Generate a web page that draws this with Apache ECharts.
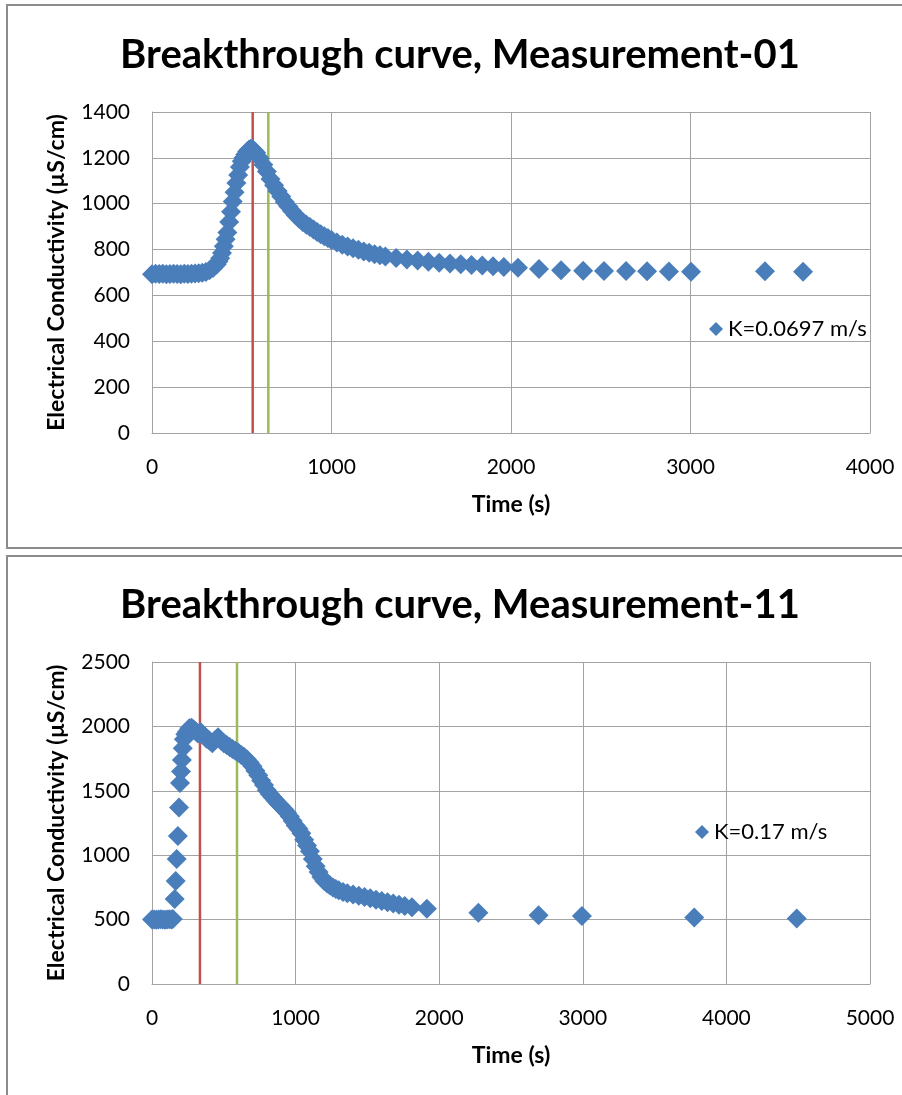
<!DOCTYPE html>
<html>
<head>
<meta charset="utf-8">
<script src="https://cdn.jsdelivr.net/npm/echarts@6/dist/echarts.min.js"></script>
<style>
html, body { margin: 0; padding: 0; background: #fff; }
#chart { width: 902px; height: 1095px; }
</style>
</head>
<body>
<div id="chart"></div>
<script>
// Measurement-01
var time01 = [0, 20, 40, 60, 80, 100, 120, 140, 160, 180, 200, 220, 240, 260, 280,
    300, 320, 340, 360, 370, 380, 390, 400, 410, 420, 430, 440, 450, 460, 470,
    480, 490, 500, 510, 520, 530, 540, 550, 560, 570, 580,
    600, 620, 640, 660, 680, 700, 720, 740, 760, 780, 800, 820, 840, 860, 880,
    900, 920, 940, 960, 980, 1000, 1030, 1060, 1090, 1120, 1150, 1180, 1210, 1240, 1270,
    1300, 1360, 1420, 1480, 1540, 1600, 1660, 1720, 1780, 1840, 1900, 1960,
    2039, 2156, 2279, 2402, 2518, 2641, 2758, 2880, 3003, 3415, 3627];
var ec01 = [692, 695, 693, 695, 692, 694, 695, 693, 692, 695, 694, 695, 696, 697, 699,
    702, 710, 720, 735, 748, 762, 785, 815, 845, 875, 920, 965, 1010, 1050, 1090,
    1125, 1160, 1185, 1200, 1215, 1228, 1235, 1240, 1238, 1230, 1222,
    1198, 1170, 1140, 1108, 1080, 1055, 1031, 1008, 988, 968, 950, 934, 920, 908, 898,
    887, 877, 867, 858, 850, 842, 831, 821, 813, 806, 799, 792, 786, 780, 775,
    770, 763, 757, 752, 747, 743, 739, 736, 733, 730, 727, 724,
    721, 715, 710, 708, 707, 706, 705, 704, 703, 705, 703];
var lines01 = [561, 648];

// Measurement-11
var time11 = [0, 15, 30, 45, 60, 75, 90, 105, 120, 135, 145,
    158, 165, 172, 180, 188, 195, 202, 208, 214, 222, 232, 245, 260, 275, 290, 305, 320, 340, 360,
    380, 400, 420, 440, 460, 480, 500, 520, 540, 560, 580, 600, 620, 640, 660,
    680, 700, 720, 740, 760, 780, 800, 820, 840, 860, 880, 900, 920, 940, 960,
    980, 1000, 1020, 1040, 1060, 1080, 1100, 1120, 1140, 1160, 1180, 1200, 1220, 1240, 1260,
    1280, 1300, 1330, 1360, 1400, 1440, 1480, 1520, 1560, 1600, 1640, 1680, 1720, 1760, 1810,
    1914, 2273, 2692, 2994, 3776, 4490];
var ec11 = [500, 500, 498, 500, 502, 500, 498, 500, 502, 500, 505,
    660, 800, 970, 1150, 1370, 1560, 1650, 1740, 1830, 1900, 1940, 1960, 1985, 1990, 1975, 1960, 1945, 1955, 1930,
    1905, 1890, 1870, 1895, 1915, 1890, 1870, 1855, 1840, 1825, 1810, 1798, 1780, 1765, 1745,
    1720, 1690, 1655, 1620, 1580, 1545, 1505, 1475, 1450, 1425, 1400, 1378, 1355, 1330, 1300,
    1265, 1230, 1205, 1170, 1120, 1075, 1030, 970, 915, 870, 830, 800, 780, 765, 750,
    738, 728, 715, 705, 695, 685, 675, 665, 655, 645, 635, 625, 615, 605, 595,
    585, 554, 533, 527, 516, 508];
var lines11 = [334, 592];

var xTicks01 = { min: 0, max: 4000, interval: 1000 };
var yTicks01 = { min: 0, max: 1400, interval: 200 };
var xTicks11 = { min: 0, max: 5000, interval: 1000 };
var yTicks11 = { min: 0, max: 2500, interval: 500 };

var fontFam = 'Lato, "Open Sans", sans-serif';
var gridColor = '#A3A3A3';
var blue = '#4A7EBB';

function zip(xs, ys){
    let out = [];
    for(let i = 0, len = xs.length; i < len; i++){
        out.push([xs[i], ys[i]]);
    }
    return out;
}

// plain numbers, no thousands separator
function plain(v){
    return String(v);
}

function makeX(idx, ticks){
    return {
        gridIndex: idx,
        type: 'value',
        min: ticks.min, max: ticks.max, interval: ticks.interval,
        name: 'Time (s)',
        nameLocation: 'middle',
        nameGap: 60,
        nameTextStyle: { fontFamily: fontFam, fontWeight: 'bold', fontSize: 23, color: '#000' },
        axisLine: { show: true, lineStyle: { color: gridColor, width: 1 } },
        axisTick: { show: false },
        axisLabel: { fontFamily: fontFam, fontSize: 21, color: '#000', margin: 24, formatter: plain },
        splitLine: { show: true, lineStyle: { color: gridColor, width: 1 } }
    };
}

function makeY(idx, ticks){
    return {
        gridIndex: idx,
        type: 'value',
        min: ticks.min, max: ticks.max, interval: ticks.interval,
        name: 'Electrical Conductivity (µS/cm)',
        nameLocation: 'middle',
        nameRotate: 90,
        nameGap: 84,
        nameTextStyle: { fontFamily: fontFam, fontWeight: 'bold', fontSize: 23, color: '#000' },
        axisLine: { show: true, lineStyle: { color: gridColor, width: 1 } },
        axisTick: { show: false },
        axisLabel: { fontFamily: fontFam, fontSize: 21, color: '#000', margin: 22, formatter: plain },
        splitLine: { show: true, lineStyle: { color: gridColor, width: 1 } }
    };
}

function vLine(idx, t, yMax, color){
    return {
        type: 'line',
        xAxisIndex: idx, yAxisIndex: idx,
        data: [[t, 0], [t, yMax]],
        symbol: 'none',
        silent: true,
        z: 1,
        lineStyle: { color: color, width: 2.5 }
    };
}

var dom = document.getElementById('chart');
var myChart = echarts.init(dom);
var option = {
    animation: false,
    backgroundColor: '#fff',
    graphic: [
        { type: 'rect', shape: { x: 7, y: 5, width: 905, height: 543 }, style: { fill: 'none', stroke: '#8C8C8C', lineWidth: 2 } },
        { type: 'rect', shape: { x: 7, y: 556, width: 905, height: 560 }, style: { fill: 'none', stroke: '#8C8C8C', lineWidth: 2 } },
        { type: 'text', x: 460, y: 55, style: { text: 'Breakthrough curve, Measurement-01', align: 'center', verticalAlign: 'middle', textAlign: 'center', textVerticalAlign: 'middle', fontFamily: fontFam, fontWeight: 'bold', fontSize: 40, fill: '#000' } },
        { type: 'text', x: 460, y: 605, style: { text: 'Breakthrough curve, Measurement-11', align: 'center', verticalAlign: 'middle', textAlign: 'center', textVerticalAlign: 'middle', fontFamily: fontFam, fontWeight: 'bold', fontSize: 40, fill: '#000' } }
    ],
    grid: [
        { left: 152, top: 112, width: 718, height: 321 },
        { left: 152, top: 662, width: 718, height: 322 }
    ],
    legend: [
        {
            data: ['K=0.0697 m/s'],
            left: 704, top: 313,
            icon: 'diamond', itemWidth: 14, itemHeight: 14, itemGap: 5,
            textStyle: { fontFamily: fontFam, fontSize: 22, color: '#000' }
        },
        {
            data: ['K=0.17 m/s'],
            left: 690, top: 816,
            icon: 'diamond', itemWidth: 14, itemHeight: 14, itemGap: 5,
            textStyle: { fontFamily: fontFam, fontSize: 22, color: '#000' }
        }
    ],
    xAxis: [makeX(0, xTicks01), makeX(1, xTicks11)],
    yAxis: [makeY(0, yTicks01), makeY(1, yTicks11)],
    series: [
        vLine(0, lines01[0], yTicks01.max, '#C0504D'),
        vLine(0, lines01[1], yTicks01.max, '#9BBB59'),
        vLine(1, lines11[0], yTicks11.max, '#C0504D'),
        vLine(1, lines11[1], yTicks11.max, '#9BBB59'),
        {
            name: 'K=0.0697 m/s',
            type: 'scatter',
            xAxisIndex: 0, yAxisIndex: 0,
            data: zip(time01, ec01),
            symbol: 'diamond',
            symbolSize: 20,
            z: 3,
            itemStyle: { color: blue, opacity: 1 }
        },
        {
            name: 'K=0.17 m/s',
            type: 'scatter',
            xAxisIndex: 1, yAxisIndex: 1,
            data: zip(time11, ec11),
            symbol: 'diamond',
            symbolSize: 20,
            z: 3,
            itemStyle: { color: blue, opacity: 1 }
        }
    ]
};
if (option && typeof option === "object") {
    myChart.setOption(option, true);
}
</script>
</body>
</html>
